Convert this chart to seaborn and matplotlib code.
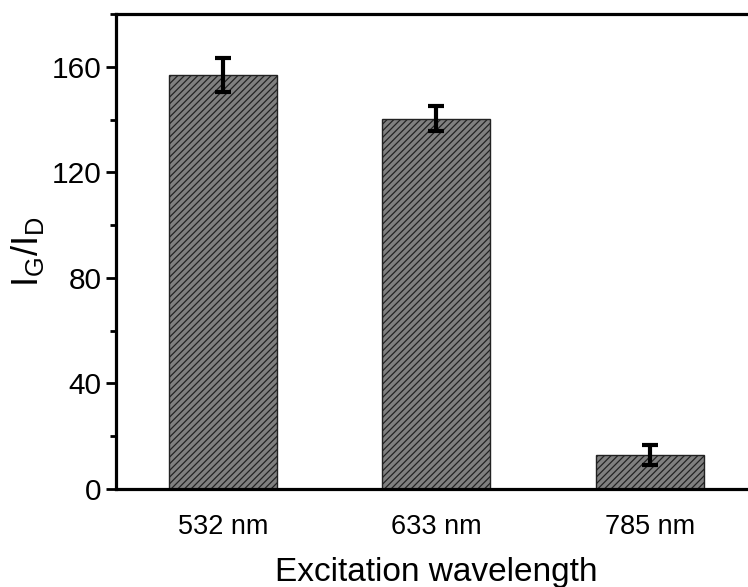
import matplotlib
matplotlib.use("Agg")
import matplotlib.pyplot as plt
import seaborn as sns
import pandas as pd
import numpy as np
from matplotlib.ticker import MultipleLocator

categories = ["532 nm", "633 nm", "785 nm"]
values = [157.0, 140.4, 12.8]
errors = [6.4, 4.7, 3.7]

sns.set_theme(style="ticks")
plt.rcParams['font.family'] = ['Liberation Sans', 'DejaVu Sans']
plt.rcParams['mathtext.fontset'] = 'custom'
plt.rcParams['mathtext.rm'] = 'Liberation Sans'
plt.rcParams['mathtext.it'] = 'Liberation Sans'
plt.rcParams['hatch.linewidth'] = 0.9
plt.rcParams['hatch.color'] = 'black'
plt.rcParams['text.color'] = 'black'
plt.rcParams['axes.labelcolor'] = 'black'
plt.rcParams['xtick.color'] = 'black'
plt.rcParams['ytick.color'] = 'black'

df = pd.DataFrame({"cat": categories, "val": values})

fig = plt.figure(figsize=(7.48, 5.87), dpi=100)
ax = fig.add_axes([116/748, 98/587, 640.5/748, 475/587])

sns.barplot(data=df, x="cat", y="val", ax=ax, color="#808080", width=0.505,
            edgecolor="#222222", linewidth=1.0, saturation=1, errorbar=None)
for p in ax.patches:
    p.set_hatch('/////')

ax.errorbar(np.arange(len(categories)), values, yerr=errors, fmt='none',
            ecolor='black', elinewidth=3, capsize=6, capthick=3)

ax.set_xlim(-0.5, 2.5)
ax.set_ylim(0, 180)
ax.yaxis.set_major_locator(MultipleLocator(40))
ax.yaxis.set_minor_locator(MultipleLocator(20))
ax.set_yticks([0, 40, 80, 120, 160])

for s in ['left', 'bottom', 'top', 'right']:
    ax.spines[s].set_linewidth(2.3)
    ax.spines[s].set_color('black')

ax.tick_params(axis='y', which='major', length=7.5, width=2, labelsize=21.5, direction='out', pad=3)
ax.tick_params(axis='y', which='minor', length=4.5, width=2, direction='out')
ax.tick_params(axis='x', length=0, labelsize=19.5, pad=18)

ax.set_xlabel("Excitation wavelength", fontsize=24, labelpad=12)
ax.set_ylabel(r"$\mathregular{I_G/I_D}$", fontsize=26, labelpad=4)

fig.savefig("out.png", dpi=100)
